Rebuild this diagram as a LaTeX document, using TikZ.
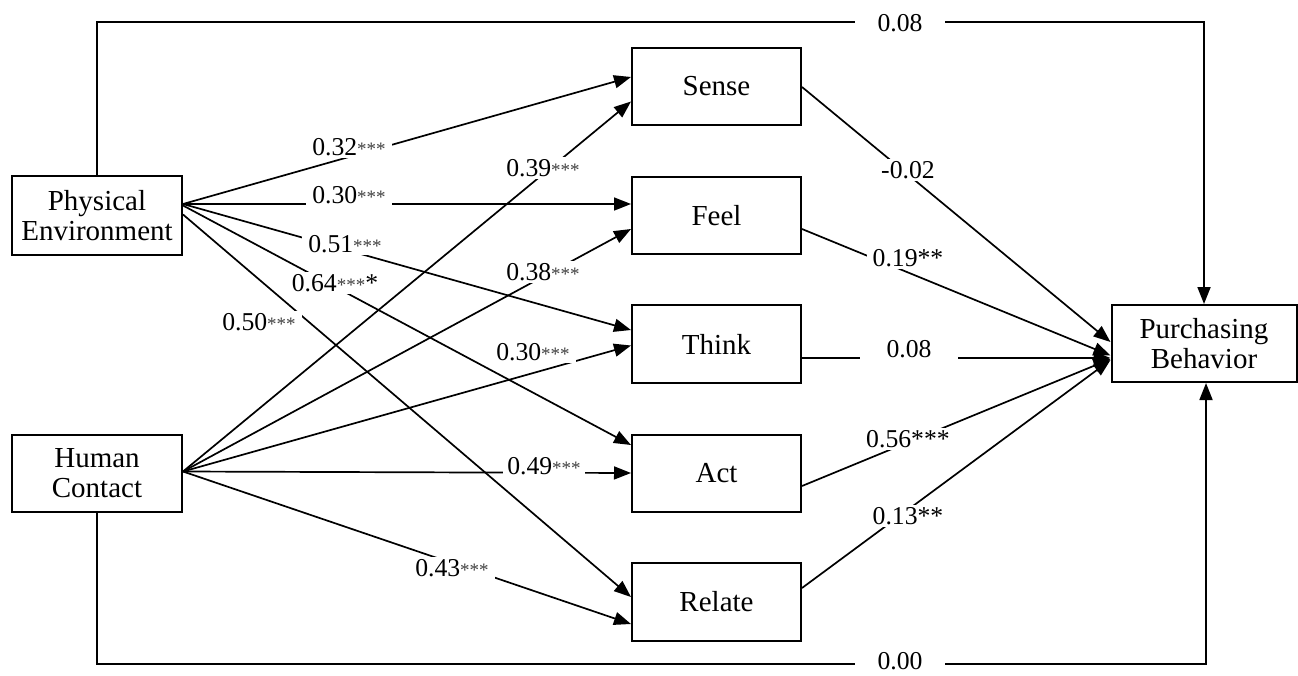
\documentclass[tikz,border=0pt]{standalone}
\usepackage{fontspec}
\setmainfont{Liberation Serif}
\usetikzlibrary{calc,arrows.meta}
\newcommand{\sst}{{\fontsize{19}{19}\selectfont\color{black!75}***}}
\begin{document}
\begin{tikzpicture}[x=1pt,y=-1pt,
  box/.style={draw, line width=2pt, minimum width=169pt, minimum height=77pt, inner sep=0pt, align=center, font=\fontsize{29}{30}\selectfont},
  conn/.style={line width=1.7pt},
  arr/.style={conn, -{Triangle[length=17pt,width=13pt]}},
  lbl/.style={fill=white, inner xsep=6pt, inner ysep=2pt, font=\fontsize{25.7}{28}\selectfont},
  wide/.style={minimum width=90pt},
]
\useasboundingbox (0,0) rectangle (1298,675);

% boxes
\node[box, minimum width=170pt, minimum height=79pt] (pe) at (97,215.5) {Physical\\Environment};
\node[box, minimum width=170pt] (hc) at (97,473.5) {Human\\Contact};
\node[box] (sense) at (716.5,86.5) {Sense};
\node[box] (feel) at (716.5,215.5) {Feel};
\node[box, minimum height=78pt] (think) at (716.5,344) {Think};
\node[box] (act) at (716.5,473.5) {Act};
\node[box, minimum height=78pt] (relate) at (716.5,602) {Relate};
\node[box, minimum width=185pt] (pb) at (1204,343.5) {Purchasing\\Behavior};

% origins
\coordinate (peo) at ($(pe.east)+(0,-11.5)$);
\coordinate (hco) at ($(hc.east)+(0,-2)$);
\coordinate (topy) at (0,22);
\coordinate (boty) at (0,664);

% physical environment paths
\draw[arr] (peo) -- ($(sense.west)+(0,-9.5)$);
\draw[arr] (peo) -- ($(feel.west)+(0,-11.5)$);
\draw[arr] (peo) -- ($(think.west)+(0,-14)$);
\draw[arr] ($(pe.east)+(0,-10)$) -- ($(act.west)+(0,-28.5)$);
\draw[arr] ($(pe.east)+(0,-1)$) -- ($(relate.west)+(0,-5)$);

% human contact paths
\draw[arr] (hco) -- ($(sense.west)+(0,15)$);
\draw[arr] (hco) -- ($(feel.west)+(0,13.5)$);
\draw[arr] (hco) -- ($(think.west)+(0,1.5)$);
\draw[arr] (hco) -- ($(act.west)+(0,-0.5)$);
\draw[arr] (hco) -- ($(relate.west)+(0,22)$);

% mediators to purchasing behavior
\draw[arr] ($(sense.east)+(0,0.5)$) -- ($(pb.west)+(0,-1.5)$);
\draw[arr] ($(feel.east)+(0,13.5)$) -- ($(pb.west)+(0,12)$);
\draw[arr] ($(think.east)+(0,14)$) -- ($(pb.west)+(0,14.5)$);
\draw[arr] ($(act.east)+(0,12.5)$) -- ($(pb.west)+(0,15.5)$);
\draw[arr] ($(relate.east)+(0,-14)$) -- ($(pb.west)+(0,16.5)$);

% direct paths
\draw[arr] (pe.north) |- (topy -| pb.north) -- (pb.north);
\draw[arr] (hc.south) |- (boty -| {$(pb.south)+(2,0)$}) -- ($(pb.south)+(2,0)$);

% labels
\node[lbl] (l1) at (349,147) {0.32\sst};
\node[lbl] (l2) at (349,195) {0.30\sst};
\node[lbl] (l3) at (345,244) {0.51\sst};
\node[lbl] (l4) at (335,283) {0.64\sst*};
\node[lbl] (l5) at (259,322) {0.50\sst};
\node[lbl] (l6) at (543,168) {0.39\sst};
\node[lbl] (l7) at (543,272) {0.38\sst};
\node[lbl] (l8) at (533,352) {0.30\sst};
\node[lbl, inner xsep=4pt] (l9) at (544,466) {0.49\sst\hspace{20pt}};
\node[lbl] (l10) at (452,568) {0.43\sst\hspace{4pt}};
\node[lbl, wide] (l11) at (900,23) {0.08};
\node[lbl] (l12) at (908,170) {-0.02};
\node[lbl] (l13) at (908,258) {0.19**};
\node[lbl, minimum width=98pt] (l14) at (909,349) {0.08};
\node[lbl] (l15) at (908,439) {0.56***};
\node[lbl] (l16) at (908,516) {0.13**};
\node[lbl, wide, inner ysep=1pt] (l17) at (900,661) {0.00};
\end{tikzpicture}
\end{document}
